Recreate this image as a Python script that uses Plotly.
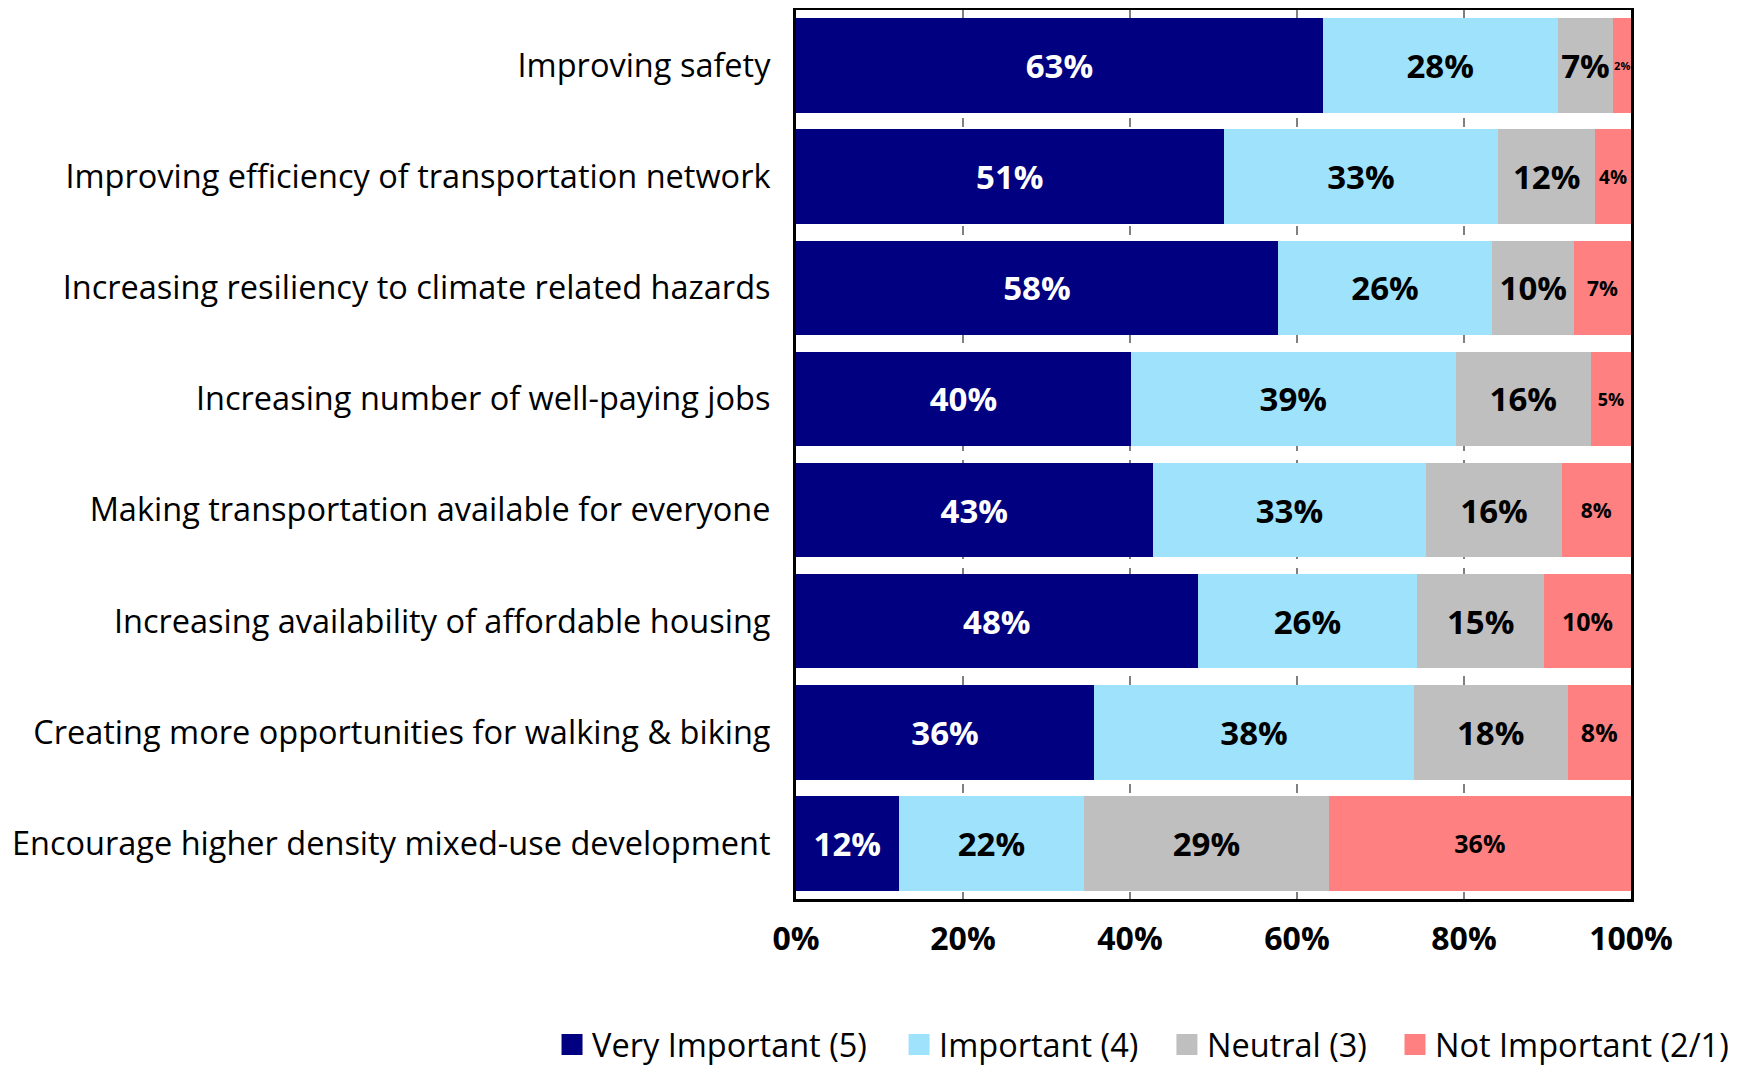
import plotly.graph_objects as go

categories = [
    "Improving safety",
    "Improving efficiency of transportation network",
    "Increasing resiliency to climate related hazards",
    "Increasing number of well-paying jobs",
    "Making transportation available for everyone",
    "Increasing availability of affordable housing",
    "Creating more opportunities for walking & biking",
    "Encourage higher density mixed-use development",
]

very_important = [63.1, 51.2, 57.7, 40.1, 42.7, 48.1, 35.7, 12.3]
important = [28.1, 32.9, 25.7, 38.9, 32.8, 26.3, 38.3, 22.2]
neutral = [6.7, 11.6, 9.8, 16.2, 16.2, 15.2, 18.4, 29.3]
not_important = [2.1, 4.3, 6.8, 4.8, 8.3, 10.4, 7.6, 36.2]

series_names = ["Very Important (5)", "Important (4)", "Neutral (3)", "Not Important (2/1)"]
x_ticks = [0, 20, 40, 60, 80, 100]
x_tick_labels = [f"{v}%" for v in x_ticks]

# styling
colors = ["#000080", "#9EE3FB", "#BFBFBF", "#FF8080"]
text_colors = ["white", "black", "black", "black"]
FONT = "Open Sans"
big = 33
red_label_sizes = [11, 19, 21, 18, 21, 25, 25, 25]
label_sizes = [[big] * 8, [big] * 8, [big] * 8, red_label_sizes]
legend_ids = ["legend", "legend2", "legend3", "legend4"]
legend_x = [0.3132, 0.5130, 0.6672, 0.7985]

fig = go.Figure()
for name, vals, col, tcol, sizes in zip(
    series_names,
    [very_important, important, neutral, not_important],
    colors, text_colors, label_sizes,
):
    fig.add_trace(go.Bar(
        y=categories, x=vals, name=name, orientation="h",
        marker=dict(color=col, line=dict(width=0)),
        texttemplate="%{x:.0f}%", textposition="inside", textangle=0,
        insidetextanchor="middle", constraintext="none",
        textfont=dict(family=FONT, size=sizes, color=tcol, weight="bold"),
        hoverinfo="skip", showlegend=False,
    ))

# legend entries with larger square swatches
for name, col, lid in zip(series_names, colors, legend_ids):
    fig.add_trace(go.Scatter(
        x=[None], y=[None], mode="markers", name=name,
        marker=dict(symbol="square", size=16, color=col, line=dict(color=col, width=5)),
        showlegend=True, hoverinfo="skip", legend=lid,
    ))

legend_style = dict(
    orientation="h", xref="container", yref="container",
    xanchor="left", y=0.021, yanchor="middle",
    font=dict(family=FONT, size=32.5, color="black"),
    itemsizing="trace", bgcolor="rgba(0,0,0,0)", borderwidth=0,
)

fig.update_layout(
    barmode="stack",
    bargap=0.15,
    width=1737, height=1059,
    margin=dict(l=788, r=114, t=2, b=168, autoexpand=False),
    plot_bgcolor="white", paper_bgcolor="white",
    font=dict(family=FONT, color="black"),
    **{lid: dict(legend_style, x=lx) for lid, lx in zip(legend_ids, legend_x)},
)
fig.update_xaxes(
    range=[0, 100], tickvals=x_ticks, ticktext=x_tick_labels,
    tickfont=dict(family=FONT, size=32, color="black", weight="bold"),
    showgrid=True, gridcolor="#808080", griddash="dash", gridwidth=1.5,
    showline=True, linecolor="black", linewidth=3, mirror=True,
    ticks="", ticklabelstandoff=10, zeroline=False, layer="below traces",
    automargin=False,
)
fig.update_yaxes(
    autorange="reversed",
    tickfont=dict(family=FONT, size=32.5, color="black"),
    showline=True, linecolor="black", linewidth=3, mirror=True,
    ticks="", ticklabelstandoff=16, showgrid=False, automargin=False,
)

fig.write_html("out.html")
